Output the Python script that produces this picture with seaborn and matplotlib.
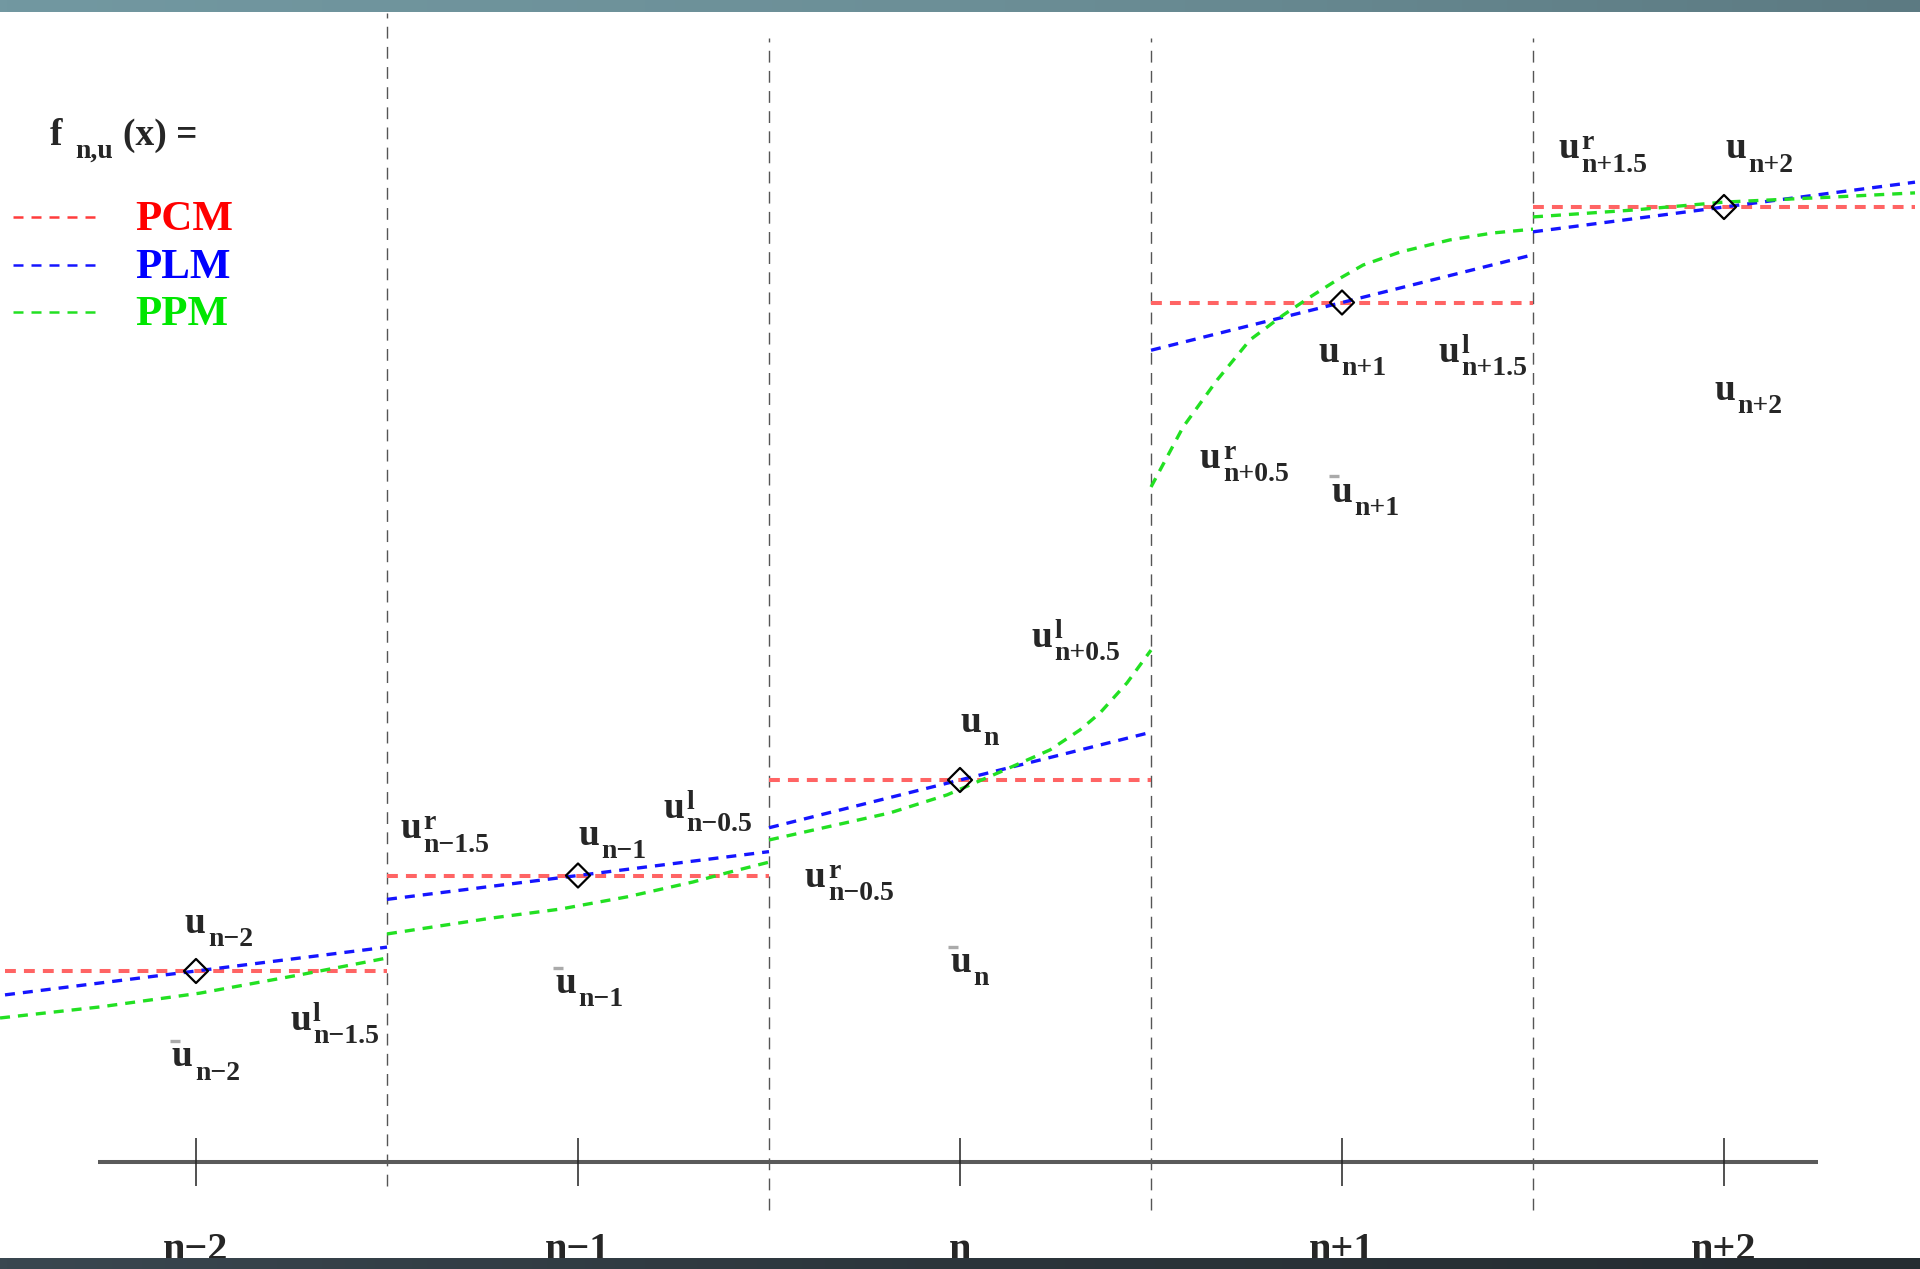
import numpy as np
import pandas as pd
import seaborn as sns
import matplotlib.pyplot as plt
from matplotlib.transforms import offset_copy
from matplotlib.colors import LinearSegmentedColormap

sns.set_style("white")
plt.rcParams["font.family"] = ["Liberation Serif", "DejaVu Serif"]

# cells (centres in cell widths) and their axis labels
cells = [-2, -1, 0, 1, 2]
cell_labels = ["n\u22122", "n\u22121", "n", "n+1", "n+2"]
interfaces = [-1.5, -0.5, 0.5, 1.5]

# values (y in cell-width units above the axis)
u_avg = [0.50, 0.75, 1.00, 2.25, 2.50]          # PCM levels / diamonds
plm_slope = [0.125, 0.125, 0.25, 0.25, 0.13]     # PLM slope per cell

# PPM curve, points read along each cell
ppm_x = [
    [-2.513, -2.251, -1.990, -1.728, -1.5],
    [-1.5, -1.395, -1.223, -1.047, -0.872, -0.699, -0.610, -0.5],
    [-0.5, -0.183, -0.034, 0.105, 0.236, 0.314, 0.366, 0.437, 0.5],
    [0.5, 0.584, 0.673, 0.759, 0.846, 0.916, 0.987, 1.055, 1.152, 1.283, 1.395, 1.5],
    [1.5, 1.762, 2.003, 2.285, 2.5],
]
ppm_y = [
    [0.377, 0.406, 0.442, 0.490, 0.534],
    [0.597, 0.613, 0.639, 0.662, 0.694, 0.733, 0.757, 0.785],
    [0.843, 0.914, 0.961, 1.021, 1.079, 1.131, 1.175, 1.254, 1.340],
    [1.767, 1.924, 2.047, 2.152, 2.217, 2.264, 2.309, 2.348, 2.382, 2.414, 2.432, 2.442],
    [2.474, 2.492, 2.513, 2.526, 2.537],
]

# point labels: subscript, superscript, overbar
label_sub = ["n\u22122", "n\u22122", "n\u22121.5", "n\u22121.5", "n\u22121", "n\u22120.5",
             "n\u22121", "n\u22120.5", "n", "n", "n+0.5", "n+0.5", "n+1", "n+1.5",
             "n+1", "n+1.5", "n+2", "n+2"]
label_sup = [None, None, "l", "r", None, "l", None, "r", None, None, "l", "r", None, "l",
             None, "r", None, None]
label_bar = [False, True, False, False, False, False, True, False, True, False, False, False,
             False, False, True, False, False, False]
label_xy = [(-2.029, 0.599), (-2.063, 0.250), (-1.754, 0.346), (-1.466, 0.847),
            (-1.000, 0.830), (-0.777, 0.900), (-1.060, 0.442), (-0.406, 0.720),
            (-0.026, 0.497), (0.000, 1.126), (0.188, 1.349), (0.628, 1.816),
            (0.938, 2.095), (1.252, 2.095), (0.973, 1.729), (1.566, 2.627),
            (2.003, 2.627), (1.976, 1.995)]

methods = ["PCM", "PLM", "PPM"]
line_colors = {"PCM": "#ff6464", "PLM": "#1515ff", "PPM": "#22e022"}
text_colors = {"PCM": "#ff0000", "PLM": "#0000ff", "PPM": "#00e600"}

# long-form table of the three reconstructions, one segment per cell
rows = []
for i, c in enumerate(cells):
    for x in (c - 0.5, c + 0.5):
        rows.append(("PCM", i, x, u_avg[i]))
        rows.append(("PLM", i, x, u_avg[i] + plm_slope[i] * (x - c)))
    for x, y in zip(ppm_x[i], ppm_y[i]):
        rows.append(("PPM", i, x, y))
df = pd.DataFrame(rows, columns=["method", "cell", "x", "y"])

fig = plt.figure(figsize=(19.2, 12.69), dpi=100)
ax = fig.add_axes([0, 0, 1, 1])
ax.set_xlim(-960 / 382, 960 / 382)
ax.set_ylim(-107 / 382, 1162 / 382)
ax.axis("off")

# cell interfaces
ax.vlines(interfaces[0], -0.063, 3.008, color="#555555", lw=1.0, linestyles=(0, (8.5, 6)))
ax.vlines(interfaces[1:], -0.126, 2.942, color="#555555", lw=1.0, linestyles=(0, (8.5, 6)))

# x axis with ticks
ax.plot([-2.257, 2.246], [0, 0], color="#5a5a5a", lw=2.9, solid_capstyle="butt")
ax.vlines(cells, -0.063, 0.063, color="#222222", lw=1.1)
for c, lab in zip(cells, cell_labels):
    ax.text(c, -0.2565, lab, ha="center", va="baseline", fontsize=29, fontweight="bold")

styles = {"PCM": (2.9, (0, (2.7, 2.0)), 2),
          "PLM": (2.4, (0, (3.0, 2.4)), 3),
          "PPM": (2.4, (0, (3.0, 2.4)), 4)}
for m in methods:
    lw, ls, z = styles[m]
    sns.lineplot(data=df[df["method"] == m], x="x", y="y", units="cell", estimator=None,
                 sort=False, color=line_colors[m], lw=lw, linestyle=ls, zorder=z, ax=ax)
ax.set_xlabel("")
ax.set_ylabel("")

sns.scatterplot(x=cells, y=u_avg, marker="D", s=150, color="none", edgecolor="black",
                linewidth=1.6, zorder=6, ax=ax, legend=False)

# point labels
font = dict(fontweight="bold", ha="left", va="baseline")
for (x, y), sub, sup, bar in zip(label_xy, label_sub, label_sup, label_bar):
    ax.annotate("u", (x, y), fontsize=27, **font)
    ax.annotate(sub, (x, y), xytext=(16.5, -9.4), textcoords="offset points", fontsize=20, **font)
    if sup:
        ax.annotate(sup, (x, y), xytext=(16.5, 6.5), textcoords="offset points", fontsize=20, **font)
    if bar:
        ax.plot([x], [y], marker="_", ms=7.2, mew=2.4, color="#aaaaaa",
                transform=offset_copy(ax.transData, fig=fig, x=2.0, y=18.4, units="points"))

# legend header f_{n,u}(x) =
hx, hy = -2.382, 2.662
ax.annotate("f", (hx, hy), fontsize=27, **font)
ax.annotate("n,u", (hx, hy), xytext=(18, -9.4), textcoords="offset points", fontsize=20, **font)
ax.annotate("(x) =", (hx, hy), xytext=(52.5, 0), textcoords="offset points", fontsize=27, **font)

legend_line_y = [2.474, 2.348, 2.225]
legend_text_y = [2.440, 2.314, 2.191]
legend_line_colors = {"PCM": "#ff3c3c", "PLM": "#1515ff", "PPM": "#22e022"}
for m, ly, ty in zip(methods, legend_line_y, legend_text_y):
    ax.plot([-2.479, -2.246], [ly, ly], color=legend_line_colors[m], lw=1.8,
            linestyle=(0, (4.0, 3.2)))
    ax.text(-2.160, ty, m, color=text_colors[m], fontsize=31, **font)

# slide frame bands at top and bottom
top = fig.add_axes([0, 1 - 12 / 1269, 1, 12 / 1269])
top.imshow(np.linspace(0, 1, 256)[None, :], aspect="auto",
           cmap=LinearSegmentedColormap.from_list("t", ["#7298a1", "#6c8f97", "#5c7a82"]))
top.axis("off")
bot = fig.add_axes([0, 0, 1, 11 / 1269])
bot.imshow(np.linspace(0, 1, 256)[None, :], aspect="auto",
           cmap=LinearSegmentedColormap.from_list("b", ["#3a4750", "#2c353b", "#252c31"]))
bot.axis("off")

fig.savefig("out.png", dpi=100)
